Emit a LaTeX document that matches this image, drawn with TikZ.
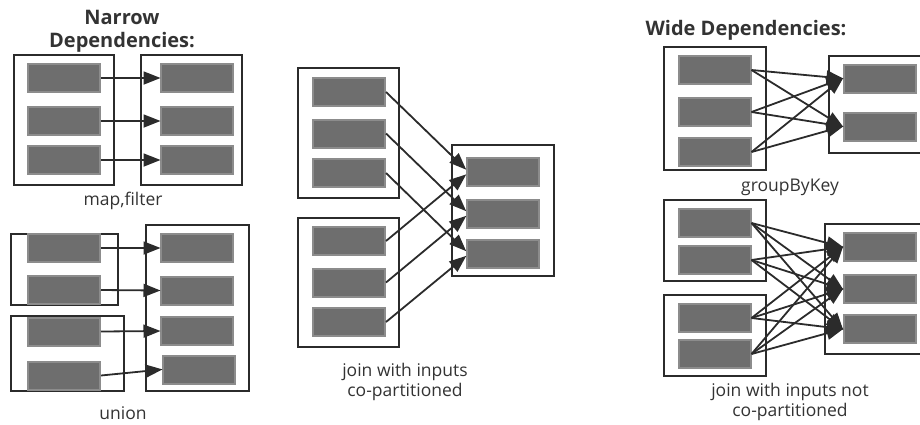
\documentclass[tikz,border=0pt]{standalone}
\usepackage{fontspec}
\setmainfont{Open Sans}
\usetikzlibrary{arrows.meta}
\definecolor{boxline}{HTML}{2B2B2B}
\definecolor{partfill}{HTML}{6E6E6E}
\definecolor{partedge}{HTML}{8C8C8C}
\definecolor{inkc}{HTML}{333333}
\tikzset{
  rdd/.style={draw=boxline, line width=2pt, inner sep=0pt},
  part/.style={fill=partfill, draw=partedge, line width=2pt, inner sep=0pt,
               minimum width=72pt, minimum height=28pt},
  dep/.style={draw=boxline, line width=1.8pt,
              -{Triangle[length=17pt,width=13pt]}, shorten >=-1pt},
  caption/.style={text=inkc, align=center, font=\fontsize{17.5}{19.5}\selectfont},
  heading/.style={text=inkc, align=center, font=\bfseries\fontsize{20}{23}\selectfont}
}
\newcommand{\rddbox}[5]{\node[rdd, minimum width=#4pt, minimum height=#5pt] (#1) at (#2,#3) {};}
\begin{document}
\begin{tikzpicture}[x=1pt,y=-1pt]
\useasboundingbox (0,0) rectangle (920,424);
\clip (0,0) rectangle (920,424);

% ---------- Narrow: map, filter ----------
\node[heading] (tnarrow) at (122,31) {Narrow\\Dependencies:};
\rddbox{mapL}{64}{120}{100}{130}
\rddbox{mapR}{191.5}{120}{101}{130}
\foreach \i/\y in {1/78,2/121,3/160}{
  \node[part] (mapa\i) at (64,\y) {};
  \node[part] (mapb\i) at (196.5,\y) {};
}
\foreach \i in {1,2,3}{ \draw[dep] (mapa\i.east) -- (mapb\i.west); }
\node[caption] (cmap) at (123,201) {map,filter};

% ---------- Narrow: union ----------
\rddbox{unA}{64.5}{269.5}{107}{71}
\rddbox{unB}{67.5}{353.5}{113}{75}
\rddbox{unR}{197.5}{308}{103}{166}
\foreach \i/\y in {1/248,2/290,3/331.5,4/375.5}{ \node[part] (una\i) at (64,\y) {}; }
\node[part] (unb1) at (196.5,248) {};
\node[part] (unb2) at (196.5,290.5) {};
\node[part] (unb3) at (196.5,331) {};
\node[part] (unb4) at (198.5,369.5) {};
\foreach \i in {1,2,3,4}{ \draw[dep] (una\i.east) -- (unb\i.west); }
\node[caption, anchor=base, inner sep=1pt] (cunion) at (123,419) {union};

% ---------- Narrow: co-partitioned join ----------
\rddbox{jnA}{348.5}{133}{101}{130}
\rddbox{jnB}{348.5}{282.5}{101}{129}
\rddbox{jnR}{503}{210.5}{102}{131}
\foreach \i/\y in {1/92,2/133.5,3/173}{ \node[part] (jna\i) at (349,\y) {}; }
\foreach \i/\y in {1/241,2/282.5,3/322}{ \node[part] (jnb\i) at (349,\y) {}; }
\foreach \i/\y in {1/172,2/213.5,3/253.5}{ \node[part] (jnc\i) at (502.5,\y) {}; }
\foreach \i in {1,2,3}{
  \draw[dep] (jna\i.east) -- ([yshift=3pt]jnc\i.west);
  \draw[dep] (jnb\i.east) -- ([yshift=-3pt]jnc\i.west);
}
\node[caption] (cjoin) at (405,382) {join with inputs\\co-partitioned};

% ---------- Wide: groupByKey ----------
\node[heading] (twide) at (746,30) {Wide Dependencies:};
\rddbox{gbL}{715}{108.5}{102}{123}
\rddbox{gbR}{880}{104.5}{102}{97}
\foreach \i/\y in {1/70,2/112,3/152}{ \node[part] (gba\i) at (714.5,\y) {}; }
\foreach \j/\y in {1/78.5,2/126.5}{ \node[part] (gbb\j) at (879.5,\y) {}; }
\foreach \i in {1,2,3}{ \foreach \j in {1,2}{ \draw[dep] (gba\i.east) -- (gbb\j.west); } }
\node[caption] (cgroup) at (790,187) {groupByKey};

% ---------- Wide: join, not co-partitioned ----------
\rddbox{wjA}{715}{240.5}{102}{81}
\rddbox{wjB}{715}{335.5}{102}{81}
\rddbox{wjR}{876}{289}{102}{130}
\foreach \i/\y in {1/223,2/260,3/318,4/354}{ \node[part] (wja\i) at (714.5,\y) {}; }
\foreach \j/\y in {1/247,2/289,3/329}{ \node[part] (wjb\j) at (879.5,\y) {}; }
\foreach \i in {1,2,3,4}{ \foreach \j in {1,2,3}{ \draw[dep] (wja\i.east) -- (wjb\j.west); } }
\node[caption] (cwjoin) at (790,402) {join with inputs not\\co-partitioned};
\end{tikzpicture}
\end{document}
